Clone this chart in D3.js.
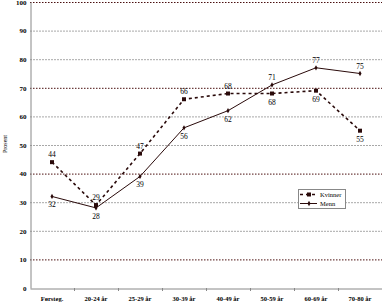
<!DOCTYPE html>
<html>
<head>
<meta charset="utf-8">
<script src="https://cdn.jsdelivr.net/npm/d3@7"></script>
<style>
body { margin: 0; background: #fff; }
text { font-family: "Liberation Serif", "DejaVu Serif", serif; }
</style>
</head>
<body>
<div id="chart"></div>
<script>
var categories = ["Førsteg.", "20-24 år", "25-29 år", "30-39 år", "40-49 år", "50-59 år", "60-69 år", "70-80 år"];
var kvinner = [44, 29, 47, 66, 68, 68, 69, 55];
var menn = [32, 28, 39, 56, 62, 71, 77, 75];
var kvinnerSide = [-1, -1, -1, -1, -1, 1, 1, 1];
var mennSide = [1, 1, 1, 1, 1, -1, -1, -1];
var yTicks = [0, 10, 20, 30, 40, 50, 60, 70, 80, 90, 100];

var width = 382, height = 302;
var padding = { top: 2, right: 0, bottom: 14, left: 30 };

var svg = d3.select("#chart")
    .append("svg")
    .attr("width", width)
    .attr("height", height);

var xScale = d3.scaleBand()
    .domain(categories)
    .range([padding.left, width - padding.right]);
var yScale = d3.scaleLinear()
    .domain([0, 100])
    .range([height - padding.bottom, padding.top]);

// gridlines
svg.append("g")
    .selectAll("line")
    .data(yTicks.filter(function(d) { return d > 0; }))
    .enter()
    .append("line")
    .attr("x1", padding.left)
    .attr("x2", width)
    .attr("y1", function(d) { return yScale(d) + 0.5; })
    .attr("y2", function(d) { return yScale(d) + 0.5; })
    .attr("stroke", function(d) { return d % 30 == 10 ? "#4a1010" : "#a8a8a8"; })
    .attr("stroke-width", 1)
    .attr("stroke-dasharray", function(d) { return d % 30 == 10 ? "1.5,1.5" : "2,1"; });

// axes
var yAxis = d3.axisLeft(yScale).tickValues(yTicks).tickSize(0).tickPadding(4);
var gy = svg.append("g")
    .attr("transform", "translate(" + (padding.left + 0.5) + ",0)")
    .call(yAxis);
gy.select(".domain").attr("stroke", "#888");
gy.selectAll("text").attr("font-size", 7).attr("font-weight", "bold").attr("fill", "#000");

var xAxis = d3.axisBottom(xScale).tickSize(0).tickPadding(8);
var gx = svg.append("g")
    .attr("transform", "translate(0," + (yScale(0) + 0.5) + ")")
    .call(xAxis);
gx.select(".domain").attr("stroke", "#888");
gx.selectAll("text").attr("font-size", 6.5).attr("font-weight", "bold").attr("fill", "#000");

// tick marks between categories
svg.append("g")
    .selectAll("line")
    .data(categories.slice(1))
    .enter()
    .append("line")
    .attr("x1", function(d) { return Math.round(xScale(d)) + 0.5; })
    .attr("x2", function(d) { return Math.round(xScale(d)) + 0.5; })
    .attr("y1", yScale(0))
    .attr("y2", yScale(0) + 3)
    .attr("stroke", "#888");

// y title
svg.append("text")
    .attr("transform", "translate(7," + 144 + ") rotate(-90)")
    .attr("text-anchor", "middle")
    .attr("font-size", 6)
    .text("Prosent");

var cx = function(i) { return xScale(categories[i]) + xScale.bandwidth() / 2; };
var line = d3.line()
    .x(function(d, i) { return cx(i); })
    .y(function(d) { return yScale(d); });

// Menn line
svg.append("path")
    .attr("d", line(menn))
    .attr("fill", "none")
    .attr("stroke", "#2a0a0a")
    .attr("stroke-width", 1);

svg.append("g")
    .selectAll("path")
    .data(menn)
    .enter()
    .append("path")
    .attr("d", d3.symbol().type(d3.symbolDiamond).size(8))
    .attr("transform", function(d, i) { return "translate(" + cx(i) + "," + yScale(d) + ")"; })
    .attr("fill", "#2a0a0a");

// Kvinner line
svg.append("path")
    .attr("d", line(kvinner))
    .attr("fill", "none")
    .attr("stroke", "#2a0a0a")
    .attr("stroke-width", 1.6)
    .attr("stroke-dasharray", "3,3");

svg.append("g")
    .selectAll("rect")
    .data(kvinner)
    .enter()
    .append("rect")
    .attr("x", function(d, i) { return cx(i) - 2; })
    .attr("y", function(d) { return yScale(d) - 2; })
    .attr("width", 4)
    .attr("height", 4)
    .attr("fill", "#2a0a0a");

// data labels
function labels(data, side) {
    svg.append("g")
        .selectAll("text")
        .data(data)
        .enter()
        .append("text")
        .attr("x", function(d, i) { return cx(i); })
        .attr("y", function(d, i) { return yScale(d) + (side[i] < 0 ? -5 : 11); })
        .attr("text-anchor", "middle")
        .attr("font-size", 7.5)
        .attr("fill", "#000")
        .text(function(d) { return d; });
}
labels(kvinner, kvinnerSide);
labels(menn, mennSide);

// legend
var lg = svg.append("g").attr("transform", "translate(298,189)");
lg.append("rect")
    .attr("x", 0.5).attr("y", 0.5)
    .attr("width", 47).attr("height", 19)
    .attr("fill", "#fff")
    .attr("stroke", "#888");
lg.append("line")
    .attr("x1", 2).attr("x2", 19).attr("y1", 5.5).attr("y2", 5.5)
    .attr("stroke", "#2a0a0a").attr("stroke-width", 1.6).attr("stroke-dasharray", "3,3");
lg.append("rect").attr("x", 9).attr("y", 3.5).attr("width", 4).attr("height", 4).attr("fill", "#2a0a0a");
lg.append("line")
    .attr("x1", 2).attr("x2", 19).attr("y1", 14.5).attr("y2", 14.5)
    .attr("stroke", "#2a0a0a").attr("stroke-width", 1);
lg.append("path")
    .attr("d", d3.symbol().type(d3.symbolDiamond).size(8))
    .attr("transform", "translate(11,14.5)")
    .attr("fill", "#2a0a0a");
lg.append("text").attr("x", 22).attr("y", 8).attr("font-size", 6.5).text("Kvinner");
lg.append("text").attr("x", 22).attr("y", 17).attr("font-size", 6.5).text("Menn");
</script>
</body>
</html>
